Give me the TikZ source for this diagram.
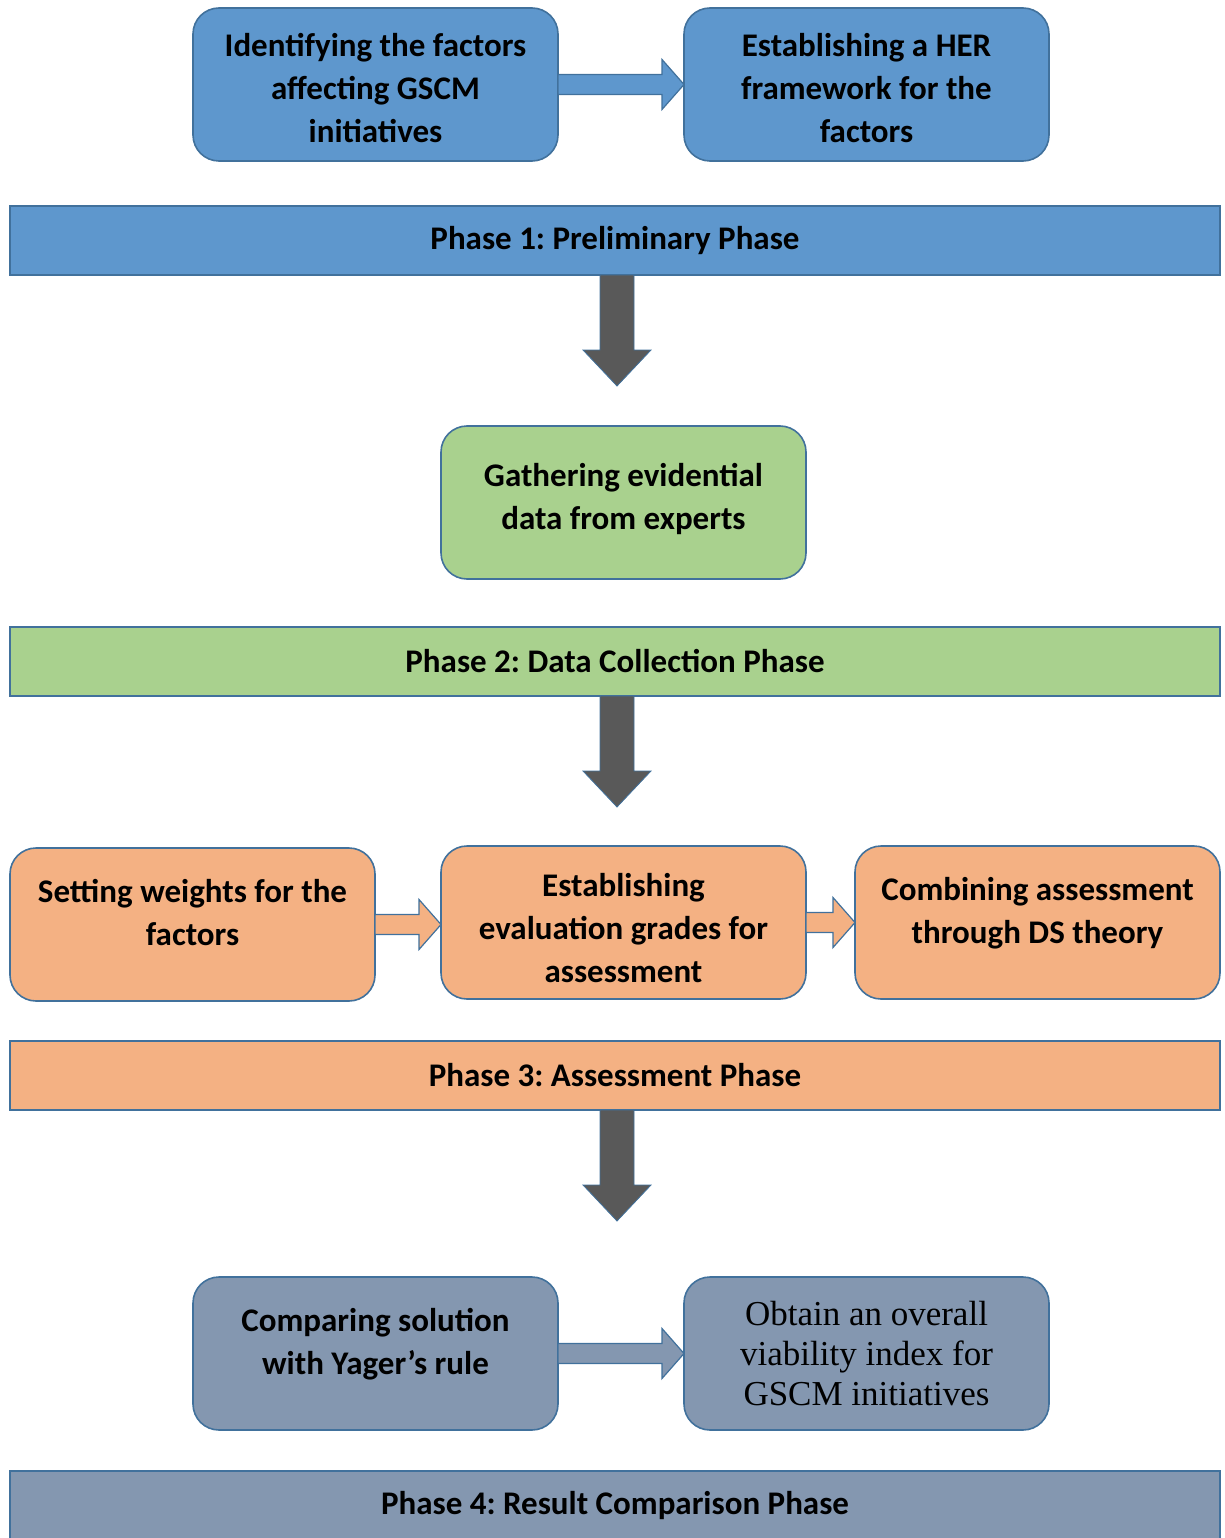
\documentclass[tikz,border=0pt]{standalone}
\usepackage{fontspec}
\setmainfont{Carlito}
\newfontfamily\timesfont{Liberation Serif}
\usetikzlibrary{calc}
\definecolor{phblue}{RGB}{94,151,205}
\definecolor{phgreen}{RGB}{169,209,142}
\definecolor{phorange}{RGB}{244,177,131}
\definecolor{phslate}{RGB}{132,151,176}
\definecolor{edge}{RGB}{65,113,156}
\definecolor{darkarrow}{RGB}{89,89,89}
\begin{document}
\frenchspacing
\begin{tikzpicture}[x=1pt,y=-1pt,
  every node/.style={inner sep=0pt, outer sep=0pt},
  txt/.style={font=\fontsize{33}{43}\selectfont\bfseries, align=center, text=black},
  stepbox/.style={txt, draw=edge, line width=1.6pt, rounded corners=26pt,
    minimum width=365pt, minimum height=153pt, anchor=north west},
  phasebar/.style={txt, draw=edge, line width=1.6pt,
    minimum width=1210pt, minimum height=69pt, anchor=north west},
  flowarrow/.style={draw=edge, line width=1.2pt},
  bigarrow/.style={fill=darkarrow, draw=edge, line width=0.8pt}
]
\useasboundingbox (0,0) rectangle (1224,1538);
\clip (0,0) rectangle (1224,1538);

% Phase 1
\node[stepbox, fill=phblue] (f1) at (193,8) {\rule{0pt}{31pt}Identifying the factors\\affecting GSCM\\initiatives};
\node[stepbox, fill=phblue] (f2) at (684,8) {\rule{0pt}{31pt}Establishing a HER\\framework for the\\factors};
\node[phasebar, fill=phblue] (p1) at (10,206) {Phase 1: Preliminary Phase};

% Phase 2
\node[stepbox, fill=phgreen] (g1) at (441,426) {Gathering evidential\\data from experts\\[-30pt]};
\node[phasebar, fill=phgreen] (p2) at (10,627) {Phase 2: Data Collection Phase};

% Phase 3
\node[stepbox, fill=phorange] (a1) at (10,848) {Setting weights for the\\factors\\[-19pt]};
\node[stepbox, fill=phorange] (a2) at (441,846) {\rule{0pt}{35pt}Establishing\\evaluation grades for\\assessment};
\node[stepbox, fill=phorange] (a3) at (855,846) {Combining assessment\\through DS theory\\[-19pt]};
\node[phasebar, fill=phorange] (p3) at (10,1041) {Phase 3: Assessment Phase};

% Phase 4
\node[stepbox, fill=phslate] (r1) at (193,1277) {Comparing solution\\with Yager’s rule\\[-19pt]};
\node[stepbox, fill=phslate, font=\timesfont\fontsize{35}{40}\selectfont] (r2) at (684,1277) {Obtain an overall\\viability index for\\GSCM initiatives};
\node[phasebar, fill=phslate] (p4) at (10,1471) {Phase 4: Result Comparison Phase};

% horizontal block arrows between steps, level with the source box
\newcommand{\stepflow}[3]{%
  \filldraw[flowarrow, fill=#3]
    ($(#1.east)+(0,-10)$) -- ($(#2.west |- #1.east)+(-22,-10)$) -- ($(#2.west |- #1.east)+(-22,-25)$)
    -- (#2.west |- #1.east) -- ($(#2.west |- #1.east)+(-22,25)$) -- ($(#2.west |- #1.east)+(-22,10)$)
    -- ($(#1.east)+(0,10)$) -- cycle;}
\stepflow{f1}{f2}{phblue}
\stepflow{a1}{a2}{phorange}
\stepflow{a2}{a3}{phorange}
\stepflow{r1}{r2}{phslate}

% downward arrows between phases
\newcommand{\phaseflow}[1]{%
  \filldraw[bigarrow]
    ($(#1.south)+(-15,0)$) -- ($(#1.south)+(-15,75)$) -- ($(#1.south)+(-32,75)$)
    -- ($(#1.south)+(2,111)$) -- ($(#1.south)+(36,75)$) -- ($(#1.south)+(19,75)$)
    -- ($(#1.south)+(19,0)$) -- cycle;}
\phaseflow{p1}
\phaseflow{p2}
\phaseflow{p3}
\end{tikzpicture}
\end{document}
